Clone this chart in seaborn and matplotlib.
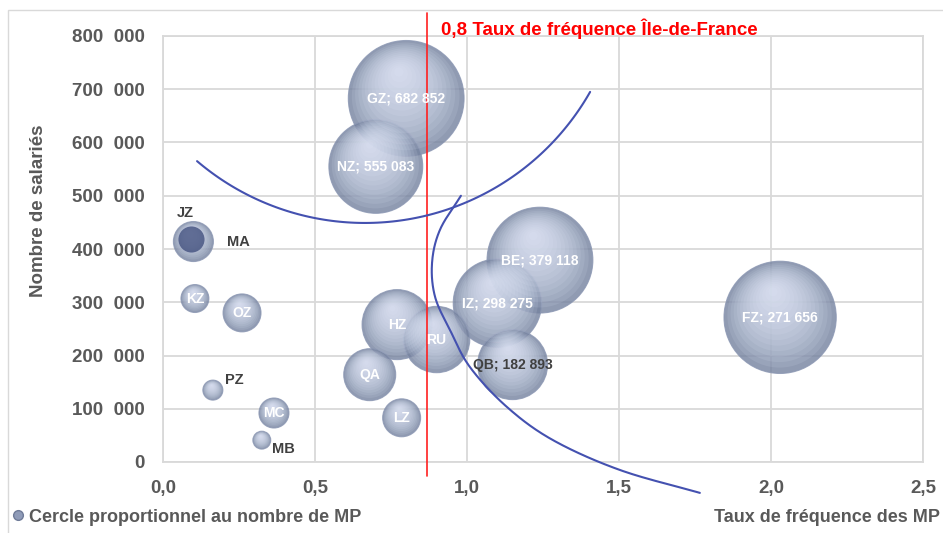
import numpy as np
import pandas as pd
import seaborn as sns
import matplotlib.pyplot as plt
from matplotlib import font_manager
from matplotlib.lines import Line2D
from matplotlib.patches import Rectangle

# ---- data ----
zones = ["GZ", "NZ", "BE", "IZ", "QB", "FZ", "HZ", "RU", "QA", "LZ",
         "MC", "MB", "PZ", "KZ", "OZ", "MA", "JZ"]
taux_frequence = [0.80, 0.70, 1.24, 1.10, 1.15, 2.03, 0.77, 0.90, 0.68, 0.785,
                  0.365, 0.325, 0.164, 0.105, 0.26, 0.10, 0.092]
nb_salaries = [682852, 555083, 379118, 298275, 182893, 271656, 258000, 230000, 164000, 83000,
               92000, 41000, 135000, 307000, 280000, 414000, 418000]
# number of MP
nb_mp = [6700, 4400, 5600, 3900, 2450, 6300, 2450, 2200, 1350, 720,
         450, 160, 200, 390, 720, 800, 340]
# zones whose label also carries the number of employees
zones_with_value = ["GZ", "NZ", "BE", "IZ", "QB", "FZ"]
zones_outside = ["JZ", "MA", "PZ", "MB"]
zones_dark_label = ["QB"]

taux_idf = 0.87
titre_idf = "0,8 Taux de fréquence Île-de-France"

# hand drawn curves on the chart (taux, salariés)
courbe_1 = [(0.112, 565000), (0.648, 449000), (1.405, 695000)]   # circle arc
courbe_2 = [(0.980, 500000), (0.911, 436000), (0.885, 374000), (0.895, 310000),
            (0.944, 248000), (1.010, 178000), (1.132, 103000), (1.283, 41000),
            (1.503, -15000), (1.766, -58000)]

df = pd.DataFrame({"zone": zones, "taux": taux_frequence,
                   "salaries": nb_salaries, "mp": nb_mp})

# ---- style ----
sns.set_style("white")
names = {f.name for f in font_manager.fontManager.ttflist}
narrow = "Liberation Sans Narrow" if "Liberation Sans Narrow" in names else "Liberation Sans"
plt.rcParams["font.family"] = [narrow, "DejaVu Sans"]
GREY = "#595959"
GRID = "#d9d9d9"
BASE = "#75829f"

DPI = 100
fig = plt.figure(figsize=(9.43, 5.33), dpi=DPI)
ax = fig.add_axes([163 / 943, 1 - 462 / 533, 760 / 943, 426 / 533])
ax.set_xlim(0, 2.5)
ax.set_ylim(0, 800000)

# marker area in pt^2 proportional to number of MP
k_size = 1.0368
mp_max = max(nb_mp)
sns.scatterplot(data=df, x="taux", y="salaries", size="mp",
                sizes=(0, k_size * mp_max), size_norm=(0, mp_max),
                color=BASE, alpha=0.8, edgecolor="#8a96b2", linewidth=0.8,
                legend=False, ax=ax, zorder=3)

# sphere shading : shrinking light discs moving to the highlight
sizes = k_size * df["mp"].to_numpy()
centres = ax.transData.transform(df[["taux", "salaries"]].to_numpy())
r_px = np.sqrt(sizes) / 2 * DPI / 72
n_layers = 14
for i in range(n_layers):
    rf = 0.93 - 0.85 * i / (n_layers - 1)
    d = 0.55 * (1 - rf)
    pos = centres + np.column_stack([-0.25 * d * r_px, 0.9 * d * r_px])
    pos = ax.transData.inverted().transform(pos)
    ax.scatter(pos[:, 0], pos[:, 1], s=sizes * rf ** 2, color="#e9efff",
               alpha=0.11, linewidths=0, zorder=3)

# JZ sphere looks much darker (overlaps MA)
jz = df[df["zone"] == "JZ"]
ax.scatter(jz["taux"], jz["salaries"], s=k_size * jz["mp"], color="#4a5884",
           alpha=0.85, linewidths=0, zorder=4)

# grid / spines
ax.set_xticks(np.arange(0, 2.51, 0.5))
ax.set_yticks(np.arange(0, 800001, 100000))
ax.grid(True, color=GRID, lw=1.3, zorder=0)
ax.set_axisbelow(True)
for sp in ax.spines.values():
    sp.set_color(GRID)
    sp.set_linewidth(1.3)
ax.xaxis.set_major_formatter(plt.FuncFormatter(lambda v, p: f"{v:.1f}".replace(".", ",")))
ax.yaxis.set_major_formatter(plt.FuncFormatter(lambda v, p: f"{v:,.0f}".replace(",", "  ")))
ax.tick_params(axis="x", length=0, pad=13, labelsize=13.5, labelcolor=GREY)
ax.tick_params(axis="y", length=0, pad=13, labelsize=13.5, labelcolor=GREY)
for lab in ax.get_xticklabels() + ax.get_yticklabels():
    lab.set_fontweight("bold")
ax.set_xlabel("")
ax.set_ylabel("Nombre de salariés", fontsize=13.5, fontweight="bold", color=GREY)
ax.yaxis.set_label_coords(-0.152, 0.589)

# Ile-de-France line
ax.plot([taux_idf, taux_idf], [-26000, 843000], color="#ff2020", lw=1.2,
        clip_on=False, zorder=5)
ax.annotate(titre_idf, (taux_idf, 813000), xytext=(10, 0), textcoords="offset points",
            ha="left", va="center", color="#ff0000", fontsize=13.5, fontweight="bold",
            family=["Liberation Sans", "DejaVu Sans"], annotation_clip=False)


# curves
def catmull_rom(pts, n=24):
    p = np.asarray(pts, float)
    p = np.vstack([2 * p[0] - p[1], p, 2 * p[-1] - p[-2]])
    out = []
    t = np.linspace(0, 1, n, endpoint=False)[:, None]
    for i in range(1, len(p) - 2):
        p0, p1, p2, p3 = p[i - 1], p[i], p[i + 1], p[i + 2]
        out.append(0.5 * (2 * p1 + (-p0 + p2) * t + (2 * p0 - 5 * p1 + 4 * p2 - p3) * t ** 2
                          + (-p0 + 3 * p1 - 3 * p2 + p3) * t ** 3))
    out.append(p[-2][None])
    return np.vstack(out)


def circle_arc(pts, n=120):
    # arc of the circle through three points, computed in display space
    a, b, c = ax.transData.transform(np.asarray(pts, float))
    m = np.array([[2 * (b[0] - a[0]), 2 * (b[1] - a[1])],
                  [2 * (c[0] - a[0]), 2 * (c[1] - a[1])]])
    rhs = np.array([b @ b - a @ a, c @ c - a @ a])
    ctr = np.linalg.solve(m, rhs)
    rad = np.linalg.norm(a - ctr)
    ang = [np.arctan2(*(p - ctr)[::-1]) for p in (a, b, c)]
    a0, a1, a2 = np.unwrap(ang)
    if not (min(a0, a2) <= a1 <= max(a0, a2)):
        a2 = a2 + (2 * np.pi if a2 < a0 else -2 * np.pi)
    th = np.linspace(a0, a2, n)
    xy = ctr + rad * np.column_stack([np.cos(th), np.sin(th)])
    return ax.transData.inverted().transform(xy)


for xy in (circle_arc(courbe_1), catmull_rom(courbe_2)):
    ax.plot(xy[:, 0], xy[:, 1], color="#4451b0", lw=1.5, clip_on=False, zorder=6)

# bubble labels
outside_offsets = {"JZ": (-4, 19, "center"), "MA": (24, 0, "left"),
                   "PZ": (9, 7, "left"), "MB": (7, -6, "left")}
for z, x, y in zip(zones, taux_frequence, nb_salaries):
    txt = f"{z}; {y:,}".replace(",", " ") if z in zones_with_value else z
    if z in zones_outside:
        dx, dy, ha = outside_offsets[z]
        ax.annotate(txt, (x, y), xytext=(dx, dy), textcoords="offset points",
                    ha=ha, va="center", fontsize=10.5, fontweight="bold", color="#404040", zorder=7)
    else:
        col = "#404040" if z in zones_dark_label else "white"
        ax.text(x, y, txt, ha="center", va="center", fontsize=10, fontweight="bold",
                color=col, zorder=7)

# legend and x title at the bottom
handle = Line2D([], [], marker="o", ls="", markersize=7, markerfacecolor="#8f9bb8",
                markeredgecolor="#6f7b98")
fig.legend([handle], ["Cercle proportionnel au nombre de MP"], loc="center left",
           bbox_to_anchor=(2 / 943, 1 - 517 / 533), frameon=False, handletextpad=0.1,
           handlelength=1.0, borderaxespad=0,
           prop={"size": 13, "weight": "bold", "family": [narrow, "DejaVu Sans"]},
           labelcolor=GREY)
fig.text(940 / 943, 1 - 517 / 533, "Taux de fréquence des MP", ha="right", va="center",
         fontsize=13, fontweight="bold", color=GREY)

fig.patches.append(Rectangle((8 / 943, -0.05), 1.1, 1 - 10 / 533 + 0.05, fill=False,
                             ec=GRID, lw=1, transform=fig.transFigure))

fig.savefig("out.png", dpi=DPI)
